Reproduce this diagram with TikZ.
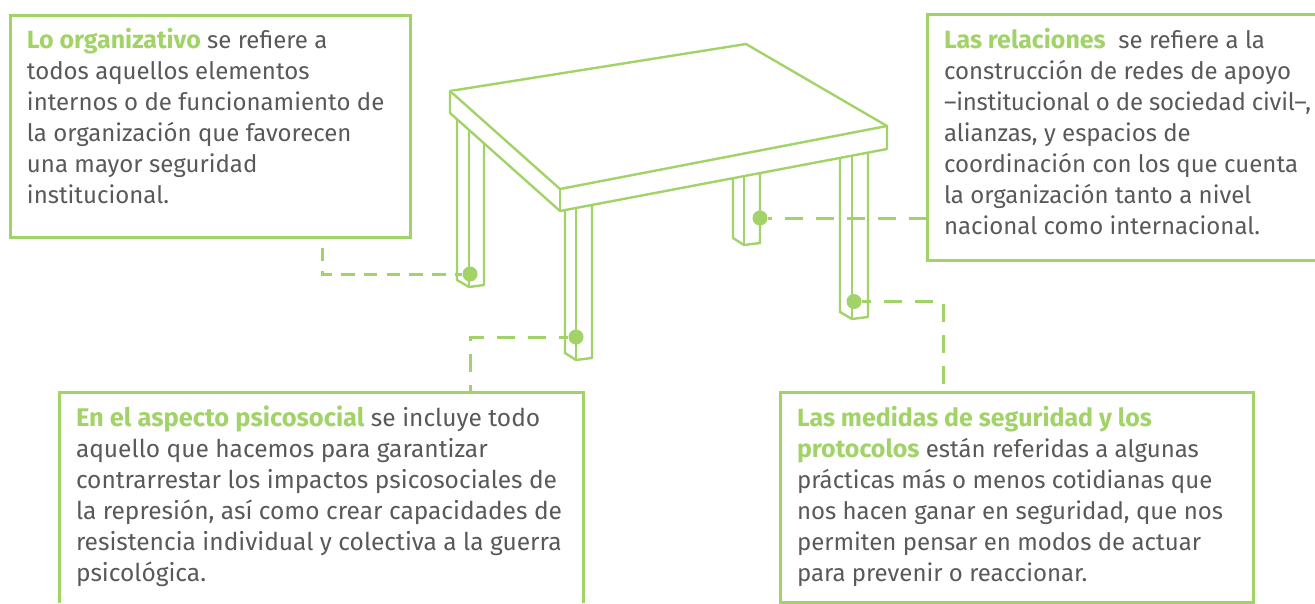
\documentclass[tikz,border=0pt]{standalone}
\usepackage{fontspec}
\setmainfont{Fira Sans}
\newfontfamily\headfont[Scale=1.04]{Fira Sans Bold}
\definecolor{leaf}{HTML}{A2D368}
\definecolor{ink}{HTML}{58595B}
\newcommand{\hd}[1]{{\headfont\textcolor{leaf}{#1}}}
\tikzset{
  x=1pt,y=-1pt,
  card/.style={anchor=north west,inner sep=0pt,outer sep=0pt,align=left,text=ink,
    font=\fontsize{24}{31}\selectfont},
  frame/.style={draw=leaf,line width=3pt,line join=miter,outer sep=0pt,inner sep=0pt,anchor=north west},
  furn/.style={draw=leaf,line width=2.4pt,fill=white,line join=round},
  lead/.style={draw=leaf,line width=3pt,dash pattern=on 18pt off 13pt},
  pin/.style={circle,fill=leaf,inner sep=0pt,minimum size=15pt},
}
\begin{document}
\begin{tikzpicture}
\useasboundingbox (0,0) rectangle (1315,603);

% back legs
\draw[furn] (733,170) -- (733,238) -- (744,245) -- (760,243) -- (760,170);
\draw[furn] (744,170) -- (744,245);
\draw[furn] (840,150) -- (840,312) -- (852,319) -- (868,317) -- (868,150);
\draw[furn] (852,150) -- (852,319);
% left leg
\draw[furn] (457,115) -- (457,280) -- (469,287) -- (484,285) -- (484,140);
\draw[furn] (469,125) -- (469,287);
% front leg
\draw[furn] (565,205) -- (565,353) -- (576,360) -- (592,358) -- (592,205);
\draw[furn] (576,205) -- (576,360);
% table top
\draw[furn] (450,91) -- (746,44) -- (887,126) -- (887,149) -- (560,211) -- (450,113) -- cycle;
\draw[furn] (450,91) -- (560,189) -- (887,126);
\draw[furn] (560,189) -- (560,211);

% connection points on the legs
\node[pin] (pA) at (470,274) {};
\node[pin] (pB) at (576,337) {};
\node[pin] (pC) at (760,218) {};
\node[pin] (pD) at (854,301.5) {};

% text cards
\node[card] (tA) at (27,28) {\hd{Lo organizativo} se refiere a\\todos aquellos elementos\\internos o de funcionamiento de\\la organización que favorecen\\una mayor seguridad\\institucional.};
\node[card] (tB) at (944,28) {\hd{Las relaciones}\ \ se refiere a la\\construcción de redes de apoyo\\{\addfontfeatures{LetterSpace=-1}–institucional o de sociedad civil–,}\\alianzas, y espacios de\\coordinación con los que cuenta\\la organización tanto a nivel\\nacional como internacional.};
\node[card,font=\fontsize{24.5}{31}\selectfont] (tC) at (76,406) {\hd{En el aspecto psicosocial} se incluye todo\\aquello que hacemos para garantizar\\contrarrestar los impactos psicosociales de\\la represión, así como crear capacidades de\\resistencia individual y colectiva a la guerra\\psicológica.};
\node[card] (tD) at (797,406) {\hd{Las medidas de seguridad y los}\\\hd{protocolos} están referidas a algunas\\prácticas más o menos cotidianas que\\nos hacen ganar en seguridad, que nos\\permiten pensar en modos de actuar\\para prevenir o reaccionar.};

% card frames
\node[frame,minimum width=400pt,minimum height=222pt] (fA) at (10.5,15) {};
\node[frame,minimum width=395pt,minimum height=246pt] (fB) at (927,14.5) {};
\node[frame,minimum width=473pt,minimum height=210pt] (fD) at (780,392) {};
\coordinate (cl) at (59.5,603);
\coordinate (cr) at (583,603);
\coordinate (ct) at (470,392);
\draw[frame] (cl) -- (59.5,392) -- (583,392) -- (cr);

% dashed leaders
\coordinate (sA) at (322,238);
\coordinate (sB) at (927,218);
\coordinate (sD) at (943,384);
\draw[lead,dash pattern=on 13.5pt off 9.2pt,dash phase=12.9pt] (sA) |- (pA);
\draw[lead,dash phase=11pt] (ct) |- (pB);
\draw[lead] (sB) -- (pC);
\draw[lead] (sD) |- (pD);
\end{tikzpicture}
\end{document}
